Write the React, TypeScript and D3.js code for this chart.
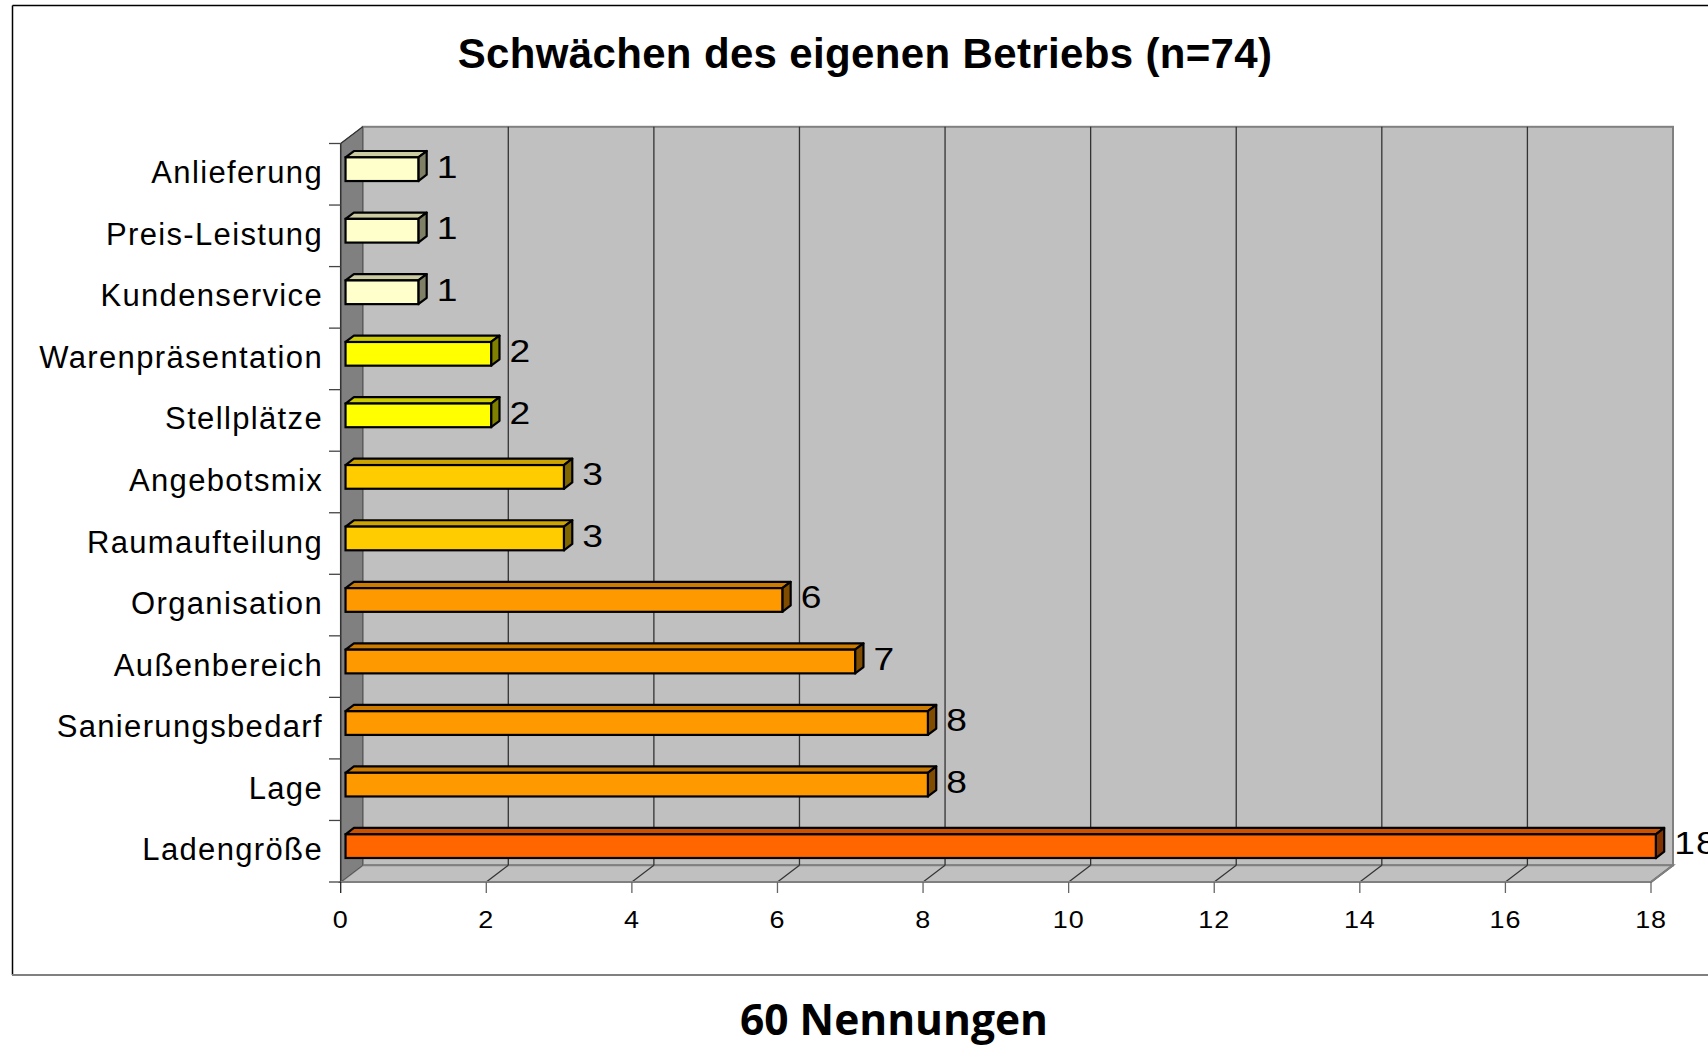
import React from "react";
import * as d3 from "d3";

const categories = [
  "Anlieferung",
  "Preis-Leistung",
  "Kundenservice",
  "Warenpräsentation",
  "Stellplätze",
  "Angebotsmix",
  "Raumaufteilung",
  "Organisation",
  "Außenbereich",
  "Sanierungsbedarf",
  "Lage",
  "Ladengröße",
];
const values = [1, 1, 1, 2, 2, 3, 3, 6, 7, 8, 8, 18];
const barColors = [
  "#FFFFCC", "#FFFFCC", "#FFFFCC",
  "#FFFF00", "#FFFF00",
  "#FFCC00", "#FFCC00",
  "#FF9900", "#FF9900", "#FF9900", "#FF9900",
  "#FF6600",
];
const xTicks = [0, 2, 4, 6, 8, 10, 12, 14, 16, 18];
const title = "Schwächen des eigenen Betriebs (n=74)";
const footer = "60 Nennungen";

const W = 1708;
const H = 1047;
const X0 = 340.7;
const X1 = 1651;
const YTOP = 143.5;
const YBOT = 882;
const DX = 22;
const DY = -16.7;
const F1 = 0.22;
const F2 = 0.6;

function shade(c: string, k: number) {
  const col = d3.rgb(c);
  return d3.rgb(col.r * k, col.g * k, col.b * k).formatHex();
}

export default function App() {
  const x = d3.scaleLinear().domain([0, 18]).range([X0, X1]);
  const y = d3.scaleBand<string>().domain(categories).range([YTOP, YBOT]).padding(0);
  const bw = y.bandwidth();
  const barH = bw * 0.385;
  const font = "Liberation Sans, Arial, sans-serif";

  const bars = categories.map((c, i) => {
    const v = values[i];
    const col = barColors[i];
    const cy = (y(c) as number) + bw / 2 + F1 * DY - 1.4;
    const fx0 = x(0) + F1 * DX;
    const fx1 = x(v) + F1 * DX;
    const fy0 = cy - barH / 2;
    const fy1 = cy + barH / 2;
    const ddx = (F2 - F1) * DX;
    const ddy = (F2 - F1) * DY;
    const top = [
      [fx0, fy0],
      [fx0 + ddx, fy0 + ddy],
      [fx1 + ddx, fy0 + ddy],
      [fx1, fy0],
    ];
    const side = [
      [fx1, fy0],
      [fx1 + ddx, fy0 + ddy],
      [fx1 + ddx, fy1 + ddy],
      [fx1, fy1],
    ];
    const pts = (p: number[][]) => p.map((q) => q.join(",")).join(" ");
    const lx = fx1 + ddx + 10;
    const ly = cy + ddy / 2 + 11.5;
    return (
      <g key={c}>
        <polygon points={pts(top)} fill={shade(col, 0.8)} stroke="#000" strokeWidth={2.2} strokeLinejoin="round" />
        <polygon points={pts(side)} fill={shade(col, 0.5)} stroke="#000" strokeWidth={2.2} strokeLinejoin="round" />
        <rect x={fx0} y={fy0} width={fx1 - fx0} height={fy1 - fy0} fill={col} stroke="#000" strokeWidth={2.2} />
        <text
          transform={`translate(${lx},${ly}) scale(1.2,1)`}
          fontFamily={font}
          fontSize={31}
          letterSpacing={1}
          fill="#000"
        >
          {v}
        </text>
      </g>
    );
  });

  const backL = X0 + DX;
  const backR = X1 + DX;
  const backT = YTOP + DY;
  const backB = YBOT + DY;

  return (
    <div style={{ position: "absolute", left: 0, top: 0, width: W, height: H, background: "#fff" }}>
      <svg width={W} height={H} style={{ display: "block" }}>
        <rect x={0} y={0} width={W} height={H} fill="#fff" />
        <line x1={12.5} y1={5.5} x2={W + 10} y2={5.5} stroke="#000" strokeWidth={1.5} />
        <line x1={12.5} y1={5.5} x2={12.5} y2={975} stroke="#000" strokeWidth={1.5} />
        <line x1={12} y1={975} x2={W + 10} y2={975} stroke="#808080" strokeWidth={2} />

        <text x={865} y={68} textAnchor="middle" fontFamily={font} fontWeight="bold" fontSize={42} letterSpacing={0.35} fill="#000">
          {title}
        </text>

        <rect x={backL} y={backT} width={backR - backL} height={backB - backT} fill="#C0C0C0" stroke="#808080" strokeWidth={2} />
        <polygon
          points={`${X0},${YBOT} ${backL},${backB} ${backR},${backB} ${X1},${YBOT}`}
          fill="#C0C0C0"
          stroke="#808080"
          strokeWidth={2}
        />
        <polygon
          points={`${X0},${YTOP} ${backL},${backT} ${backL},${backB} ${X0},${YBOT}`}
          fill="#808080"
          stroke="#555"
          strokeWidth={1}
        />
        {xTicks.map((t) =>
          t === 0 ? null : (
            <g key={`g${t}`}>
              {t < 18 && (
                <line x1={x(t) + DX} y1={backT} x2={x(t) + DX} y2={backB} stroke="#333" strokeWidth={1.3} />
              )}
              <line x1={x(t)} y1={YBOT} x2={x(t) + DX} y2={backB} stroke="#333" strokeWidth={1.2} />
            </g>
          )
        )}
        <line x1={X0} y1={YTOP} x2={X0} y2={YBOT} stroke="#333" strokeWidth={1.5} />
        <line x1={X0} y1={YTOP} x2={backL} y2={backT} stroke="#333" strokeWidth={1.2} />
        <line x1={X0} y1={YBOT} x2={X1} y2={YBOT} stroke="#808080" strokeWidth={2} />
        <line x1={X1} y1={YBOT} x2={backR} y2={backB} stroke="#808080" strokeWidth={2} />
        {d3.range(categories.length + 1).map((i) => {
          const yy = YTOP + i * bw;
          return <line key={`ct${i}`} x1={329} y1={yy} x2={X0} y2={yy} stroke="#444" strokeWidth={1.3} />;
        })}
        {xTicks.map((t) => (
          <g key={`t${t}`}>
            <line x1={x(t)} y1={YBOT} x2={x(t)} y2={YBOT + 11} stroke={t === 0 ? "#222" : "#666"} strokeWidth={1.3} />
            <text
              transform={`translate(${x(t)},927.5) scale(1.1,1)`}
              textAnchor="middle"
              fontFamily={font}
              fontSize={24.5}
              letterSpacing={0.8}
              fill="#000"
            >
              {t}
            </text>
          </g>
        ))}
        {categories.map((c) => (
          <text
            key={`l${c}`}
            x={323}
            y={(y(c) as number) + bw / 2 + 9}
            textAnchor="end"
            fontFamily={font}
            fontSize={31}
            letterSpacing={1.35}
            fill="#000"
          >
            {c}
          </text>
        ))}
        {bars}
        <text x={894} y={1035} textAnchor="middle" fontFamily="Open Sans, sans-serif" fontWeight="bold" fontSize={42.5} fill="#000">
          {footer}
        </text>
      </svg>
    </div>
  );
}
